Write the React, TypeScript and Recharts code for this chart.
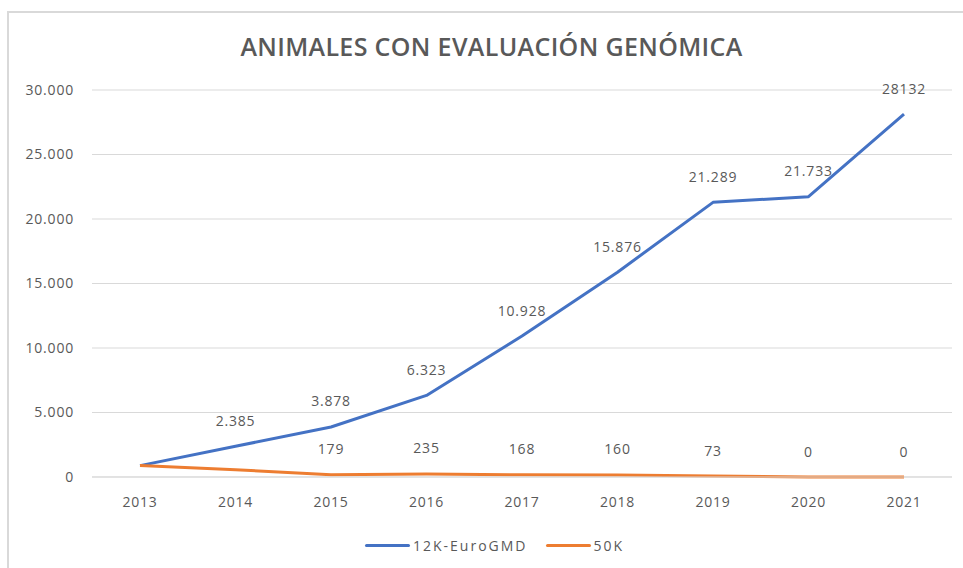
import { LineChart, Line, XAxis, YAxis, CartesianGrid, Legend, LabelList } from "recharts";

const years = ["2013", "2014", "2015", "2016", "2017", "2018", "2019", "2020", "2021"];
const euroGmd = [880, 2385, 3878, 6323, 10928, 15876, 21289, 21733, 28132];
const k50 = [900, 560, 179, 235, 168, 160, 73, 0, 0];
const euroGmdLabels = ["", "2.385", "3.878", "6.323", "10.928", "15.876", "21.289", "21.733", "28132"];
const k50Labels = ["", "", "179", "235", "168", "160", "73", "0", "0"];
const yTicks = [0, 5000, 10000, 15000, 20000, 25000, 30000];
const yTickLabels = ["0", "5.000", "10.000", "15.000", "20.000", "25.000", "30.000"];

const BLUE = "#4472C4";
const ORANGE = "#ED7D31";
const GREY = "#595959";
const FONT = "'Open Sans', sans-serif";

const rows = years.map((year, i) => ({
  year,
  euro: euroGmd[i],
  k50: k50[i],
  euroLabel: euroGmdLabels[i],
  k50Label: k50Labels[i],
}));

const renderLabel = (props: any) => {
  const { x, y, value } = props;
  if (!value) return null;
  return (
    <text
      x={x}
      y={y - 26}
      textAnchor="middle"
      dominantBaseline="central"
      fill={GREY}
      fontSize={14}
      fontFamily={FONT}
      letterSpacing={0.8}
    >
      {value}
    </text>
  );
};

const LegendBox = () => (
  <div style={{ display: "flex", alignItems: "center", fontFamily: FONT, fontSize: 14, color: GREY, letterSpacing: 2 }}>
    <span style={{ width: 45, height: 3, background: BLUE, borderRadius: 2, marginRight: 3 }} />
    <span style={{ marginRight: 18 }}>12K-EuroGMD</span>
    <span style={{ width: 45, height: 3, background: ORANGE, borderRadius: 2, marginRight: 3 }} />
    <span>50K</span>
  </div>
);

export default function App() {
  return (
    <div style={{ position: "absolute", left: 0, top: 0, width: 963, height: 568, background: "#fff" }}>
      <div
        style={{
          position: "absolute",
          left: 7,
          top: 11,
          width: 963 - 7,
          height: 568 - 11,
          borderLeft: "2px solid #d9d9d9",
          borderTop: "2px solid #d9d9d9",
          boxSizing: "border-box",
        }}
      />
      <div
        style={{
          position: "absolute",
          left: 0,
          top: 29,
          width: 983,
          textAlign: "center",
          fontFamily: FONT,
          fontWeight: 600,
          fontSize: 25,
          letterSpacing: 0.35,
          color: GREY,
        }}
      >
        ANIMALES CON EVALUACIÓN GENÓMICA
      </div>
      <LineChart width={963} height={568} data={rows} margin={{ top: 90, right: 11, left: 32, bottom: 61 }}>
        <CartesianGrid vertical={false} stroke="#d9d9d9" />
        <XAxis
          dataKey="year"
          padding={{ left: 48, right: 48 }}
          axisLine={{ stroke: "#d9d9d9" }}
          tickLine={false}
          tickMargin={14}
          tick={{ fill: GREY, fontSize: 14, fontFamily: FONT, letterSpacing: 0.8 }}
        />
        <YAxis
          width={60}
          domain={[0, 30000]}
          ticks={yTicks}
          tickFormatter={(v: number) => yTickLabels[yTicks.indexOf(v)]}
          axisLine={false}
          tickLine={false}
          tickMargin={12}
          tick={{ fill: GREY, fontSize: 14, fontFamily: FONT, letterSpacing: 0.8 }}
        />
        <Legend
          verticalAlign="middle"
          align="center"
          content={<LegendBox />}
          wrapperStyle={{ top: 536, left: 365, width: 320 }}
        />
        <Line
          type="linear"
          dataKey="euro"
          name="12K-EuroGMD"
          stroke={BLUE}
          strokeWidth={3}
          strokeLinejoin="round"
          dot={false}
          isAnimationActive={false}
        >
          <LabelList dataKey="euroLabel" content={renderLabel} />
        </Line>
        <Line
          type="linear"
          dataKey="k50"
          name="50K"
          stroke={ORANGE}
          strokeWidth={3}
          strokeLinejoin="round"
          dot={false}
          isAnimationActive={false}
        >
          <LabelList dataKey="k50Label" content={renderLabel} />
        </Line>
      </LineChart>
    </div>
  );
}
